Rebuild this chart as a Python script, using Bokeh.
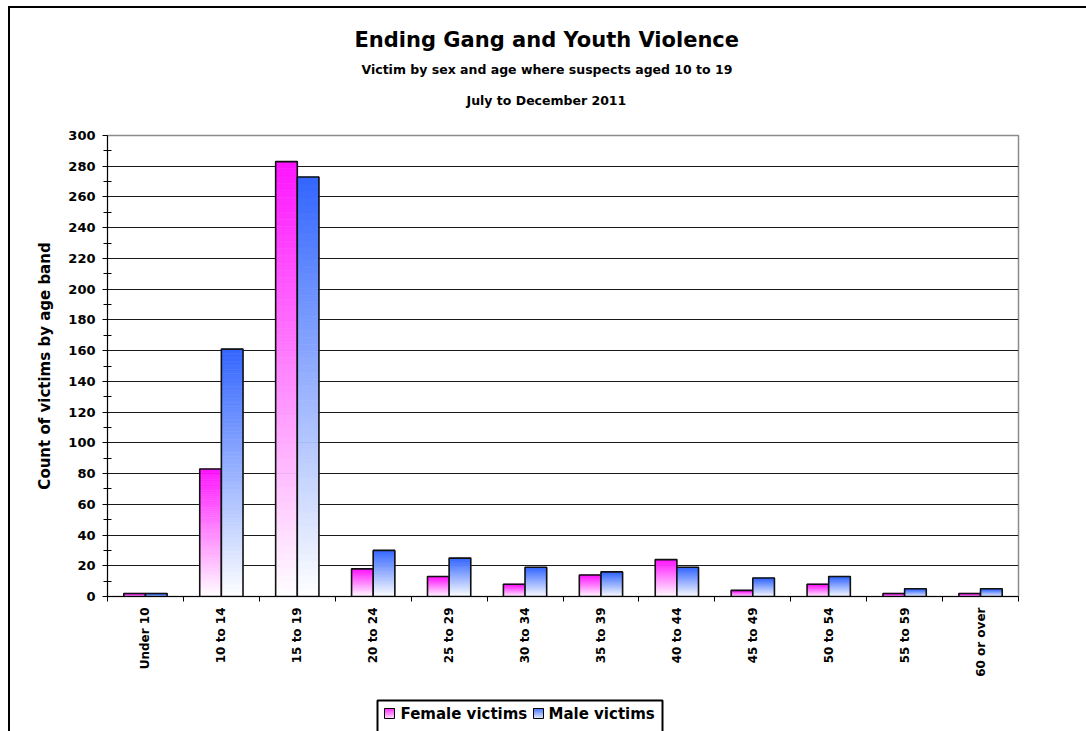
import math

from bokeh.plotting import figure
from bokeh.layouts import column
from bokeh.models import Range1d, FixedTicker, Title
from bokeh.core.properties import value
from bokeh.embed import file_html
from bokeh.resources import INLINE

# ---- data -------------------------------------------------------------
age_bands = ["Under 10", "10 to 14", "15 to 19", "20 to 24", "25 to 29", "30 to 34",
             "35 to 39", "40 to 44", "45 to 49", "50 to 54", "55 to 59", "60 or over"]
female_victims = [2, 83, 283, 18, 13, 8, 14, 24, 4, 8, 2, 2]
male_victims = [2, 161, 273, 30, 25, 19, 16, 19, 12, 13, 5, 5]
series_names = ["Female victims", "Male victims"]
series_top_colors = ["#FF14FF", "#3366FF"]
y_ticks = list(range(0, 301, 20))
y_minor_ticks = list(range(10, 300, 20))
title_lines = ["Ending Gang and Youth Violence",
               "Victim by sex and age where suspects aged 10 to 19",
               "July to December 2011"]
y_axis_title = "Count of victims by age band"

# ---- layout (page pixels) ---------------------------------------------
FONT = "DejaVu Sans"
PAGE_W, PAGE_H = 1086, 731
OFF_X, OFF_Y = 10, 8                      # canvas origin inside the bordered box
LEFT, RIGHT, TOP, BOTTOM = 107, 1018, 135, 596   # plot frame edges on the page
LEG_STRIP_TOP = 690                       # where the legend strip starts
W = PAGE_W - OFF_X
MAIN_H = LEG_STRIP_TOP - OFF_Y
LEG_H = PAGE_H - LEG_STRIP_TOP


def blend(hex_color, t):
    """mix white (t=0) towards hex_color (t=1)"""
    r, g, b = (int(hex_color[i:i + 2], 16) for i in (1, 3, 5))
    mix = lambda c: round(255 + (c - 255) * t)
    return "#%02x%02x%02x" % (mix(r), mix(g), mix(b))


n = len(age_bands)
p = figure(width=W, height=MAIN_H, output_backend="svg", toolbar_location=None, title=None,
           x_range=Range1d(0, n), y_range=Range1d(0, 300),
           min_border_left=LEFT - OFF_X, min_border_right=PAGE_W - RIGHT,
           min_border_top=TOP - OFF_Y, min_border_bottom=LEG_STRIP_TOP - BOTTOM,
           background_fill_color="white", border_fill_color="white")
p.outline_line_color = "#8c8c8c"
p.outline_line_width = 1.5

# ---- grid & axes ------------------------------------------------------
p.xgrid.visible = False
p.ygrid.ticker = FixedTicker(ticks=y_ticks)
p.ygrid.grid_line_color = "#1a1a1a"
p.ygrid.grid_line_width = 1

yax = p.yaxis[0]
yax.ticker = FixedTicker(ticks=y_ticks, minor_ticks=y_minor_ticks)
yax.axis_line_color = "black"
yax.major_tick_line_color = "black"
yax.minor_tick_line_color = "black"
yax.major_tick_in = 0
yax.major_tick_out = 5
yax.minor_tick_in = 4
yax.minor_tick_out = 4
yax.major_label_text_font = FONT
yax.major_label_text_font_style = "bold"
yax.major_label_text_font_size = "13px"
yax.major_label_text_color = "black"
yax.major_label_standoff = 7
yax.axis_label = y_axis_title
yax.axis_label_text_font = FONT
yax.axis_label_text_font_style = "bold"
yax.axis_label_text_font_size = "15px"
yax.axis_label_text_color = "black"
yax.axis_label_standoff = 11

centers = [i + 0.5 for i in range(n)]
xax = p.xaxis[0]
xax.ticker = FixedTicker(ticks=centers, minor_ticks=list(range(n + 1)))
xax.major_label_overrides = {c: lab for c, lab in zip(centers, age_bands)}
xax.major_label_orientation = math.pi / 2
xax.axis_line_color = "black"
xax.major_tick_line_color = None
xax.major_tick_in = 0
xax.major_tick_out = 0
xax.minor_tick_line_color = "black"
xax.minor_tick_in = 0
xax.minor_tick_out = 5
xax.major_label_text_font = FONT
xax.major_label_text_font_style = "bold"
xax.major_label_text_font_size = "12px"
xax.major_label_text_color = "black"
xax.major_label_standoff = 6

# ---- gradient bars (white at the base, full colour at the top) --------
STRIPS = 60
bar_w = 0.285
offsets = [-bar_w / 2, bar_w / 2]
for values, color, off in zip([female_victims, male_victims], series_top_colors, offsets):
    xs, bottoms, tops, fills = [], [], [], []
    for i, v in enumerate(values):
        for k in range(STRIPS):
            xs.append(i + 0.5 + off)
            bottoms.append(v * k / STRIPS)
            tops.append(v * (k + 1) / STRIPS)
            fills.append(blend(color, (k + 0.5) / STRIPS))
    p.vbar(x=xs, bottom=bottoms, top=tops, width=bar_w,
           fill_color=fills, line_color=fills, line_width=0.6)
    p.vbar(x=[i + 0.5 + off for i in range(n)], top=values, width=bar_w,
           fill_color=None, line_color="#111111", line_width=1.6)

# ---- titles (stacked upwards from the frame) --------------------------
def spacer(px):
    return Title(text=" ", text_font_size="1px", standoff=max(px - 3, 0))


title_sizes = ["21px", "12.5px", "12.5px"]
title_offsets = [247, 254, 359]
gaps = [8, 14, 28]   # line 1->2, 2->3, 3->frame
stack = []
for text, size, off, gap in zip(title_lines, title_sizes, title_offsets, gaps):
    stack.append(Title(text=text, align="left", offset=off, standoff=0,
                       text_font=FONT, text_font_style="bold",
                       text_font_size=size, text_color="black"))
    stack.append(spacer(gap))
for t in reversed(stack):
    p.add_layout(t, "above")

# ---- legend strip: its own canvas, drawn in page pixel coordinates ------
# (its frame lines up with the chart frame horizontally)
leg = figure(width=W, height=LEG_H, output_backend="svg", toolbar_location=None, title=None,
             x_range=Range1d(LEFT, RIGHT), y_range=Range1d(PAGE_H, LEG_STRIP_TOP),
             x_axis_type=None, y_axis_type=None,
             min_border_left=LEFT - OFF_X, min_border_right=PAGE_W - RIGHT,
             min_border_top=0, min_border_bottom=0,
             background_fill_color="white", border_fill_color="white")
leg.outline_line_color = None
leg.grid.visible = False

BOX_L, BOX_R, BOX_T = 377, 662, 700
SW_X = [384, 533]
TXT_X = [400, 548]
SW_T, SW_S, SW_N = 708, 10, 10
TXT_Y = 713

leg.quad(left=[BOX_L], right=[BOX_R], top=[BOX_T], bottom=[PAGE_H + 20],
         fill_color="white", line_color="black", line_width=2)
for color, x0 in zip(series_top_colors, SW_X):
    tops = [SW_T + k * SW_S / SW_N for k in range(SW_N)]
    bots = [SW_T + (k + 1) * SW_S / SW_N for k in range(SW_N)]
    cols = [blend(color, 0.15 + 0.85 * (1 - (k + 0.5) / SW_N)) for k in range(SW_N)]
    leg.quad(left=[x0] * SW_N, right=[x0 + SW_S] * SW_N, top=tops, bottom=bots,
             fill_color=cols, line_color=cols, line_width=0.5)
    leg.quad(left=[x0], right=[x0 + SW_S], top=[SW_T], bottom=[SW_T + SW_S],
             fill_color=None, line_color="black", line_width=1)
leg.text(x=TXT_X, y=[TXT_Y] * 2, text=series_names,
         text_font=value(FONT), text_font_style="bold", text_font_size="15px",
         text_align="left", text_baseline="middle", text_color="black")

page = column(p, leg, spacing=0)
page.margin = (6, 0, 0, 8)
page.styles = {"border-left": "2px solid black", "border-top": "2px solid black"}

open("out.html", "w").write(file_html(page, INLINE))
